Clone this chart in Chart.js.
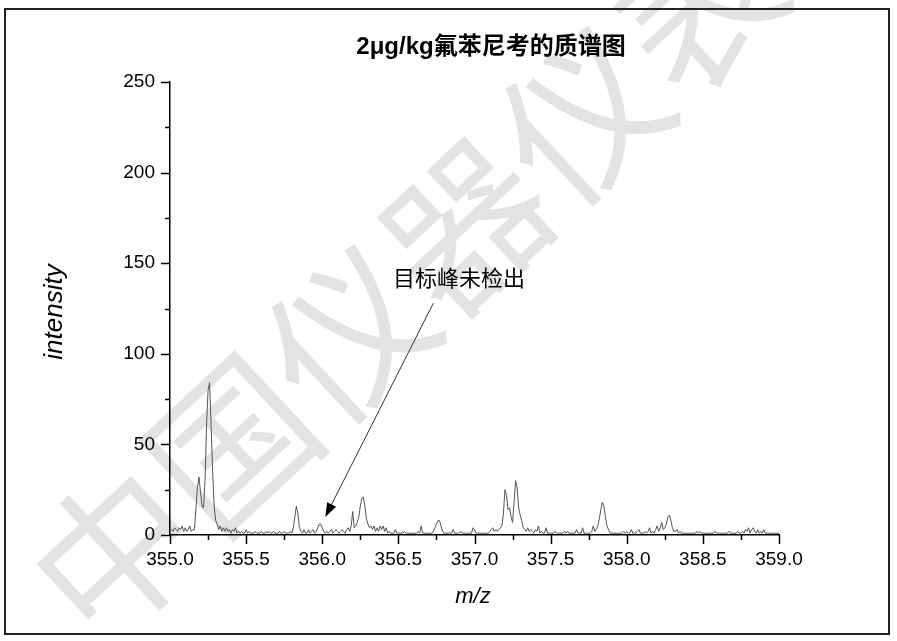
<!DOCTYPE html>
<html>
<head>
<meta charset="utf-8">
<script src="https://cdn.jsdelivr.net/npm/chart.js@4.4.1/dist/chart.umd.min.js"></script>
<style>
  html, body { margin: 0; padding: 0; background: #fff; }
  canvas { display: block; }
</style>
</head>
<body>
<canvas id="msChart" width="897" height="641"></canvas>
<script>
const chartTitle = "2μg/kg氟苯尼考的质谱图";
const xAxisTitle = "m/z";
const yAxisTitle = "intensity";
const noteText = "目标峰未检出";
const watermarkText = "中国仪器仪表";

// spectrum sampled every 0.01 m/z from 355.00 to 359.00
const mzStart = 355.0;
const mzStep = 0.01;
const intensity = [
  4, 3, 2, 4, 3, 2, 4, 3, 5, 2, 4, 2, 3, 5, 2, 3, 3, 14, 26, 32,
  24, 16, 15, 30, 60, 80, 84, 60, 35, 16, 8, 6, 3, 5, 2, 4, 2, 4, 2, 3,
  1, 3, 2, 4, 1, 2, 1, 2, 1, 1, 3, 1, 2, 1, 1, 1, 2, 1, 1, 1,
  2, 1, 1, 2, 1, 2, 1, 1, 2, 1, 1, 1, 2, 1, 1, 2, 1, 1, 1, 2,
  1, 4, 10, 16, 12, 4, 2, 1, 3, 1, 1, 3, 1, 2, 3, 1, 2, 4, 6, 6,
  4, 2, 1, 2, 1, 2, 3, 1, 2, 3, 2, 1, 2, 3, 2, 1, 3, 4, 2, 5,
  13, 4, 5, 7, 10, 16, 20, 21, 16, 9, 6, 4, 5, 3, 5, 2, 4, 2, 5, 3,
  5, 2, 4, 1, 2, 1, 1, 1, 3, 1, 1, 1, 1, 1, 2, 1, 1, 1, 1, 1,
  1, 1, 1, 2, 1, 5, 1, 1, 1, 1, 1, 1, 1, 2, 4, 6, 8, 8, 5, 2,
  1, 1, 1, 1, 1, 1, 3, 1, 1, 1, 1, 2, 1, 1, 1, 1, 1, 1, 1, 4,
  3, 1, 1, 1, 1, 1, 1, 1, 1, 1, 2, 3, 4, 2, 3, 2, 3, 4, 5, 12,
  25, 22, 14, 15, 10, 7, 18, 30, 26, 15, 11, 8, 4, 3, 2, 4, 2, 3, 2, 1,
  3, 2, 5, 1, 2, 1, 1, 4, 1, 1, 1, 1, 1, 2, 1, 1, 1, 1, 1, 2,
  1, 2, 1, 1, 1, 1, 1, 3, 1, 1, 1, 4, 1, 1, 1, 1, 1, 2, 5, 2,
  3, 5, 9, 14, 18, 16, 10, 5, 3, 1, 1, 1, 1, 1, 1, 1, 1, 1, 2, 1,
  2, 1, 1, 3, 1, 1, 1, 2, 3, 1, 1, 1, 2, 1, 2, 4, 1, 2, 1, 3,
  5, 2, 4, 7, 3, 4, 6, 10, 11, 8, 4, 2, 2, 3, 1, 2, 1, 1, 1, 1,
  1, 1, 1, 1, 1, 1, 2, 1, 2, 1, 1, 1, 1, 1, 1, 1, 1, 1, 2, 1,
  1, 1, 1, 1, 1, 1, 1, 2, 1, 1, 1, 1, 1, 2, 1, 1, 2, 1, 3, 2,
  4, 1, 3, 4, 2, 1, 3, 1, 2, 1, 3, 1, 1, 1, 1, 1, 1, 1, 1, 1,
  1
];

const xTickValues = [355.0, 355.5, 356.0, 356.5, 357.0, 357.5, 358.0, 358.5, 359.0];
const xMinorValues = [355.25, 355.75, 356.25, 356.75, 357.25, 357.75, 358.25, 358.75];
const yTickValues = [0, 50, 100, 150, 200, 250];
const yMinorValues = [25, 75, 125, 175, 225];

// arrow of the note, in data units: [m/z, intensity]
const arrowFrom = [356.73, 128];
const arrowTo = [356.02, 10];

const points = intensity.map((v, i) => ({ x: +(mzStart + i * mzStep).toFixed(2), y: v }));

const decorPlugin = {
  id: "decor",
  beforeDraw(chart) {
    const ctx = chart.ctx;
    ctx.save();
    ctx.fillStyle = "#fff";
    ctx.fillRect(0, 0, chart.width, chart.height);
    // watermark
    ctx.translate(407, 280);
    ctx.rotate(-43 * Math.PI / 180);
    ctx.font = "160px 'Noto Sans CJK SC'";
    ctx.fillStyle = "rgba(0,0,0,0.11)";
    ctx.textAlign = "center";
    ctx.textBaseline = "middle";
    ctx.fillText(watermarkText, 0, 0);
    ctx.restore();

    ctx.save();
    ctx.strokeStyle = "#222";
    ctx.lineWidth = 2;
    ctx.strokeRect(5, 9, 884, 625);
    ctx.restore();
  },
  afterDraw(chart) {
    const ctx = chart.ctx;
    const xs = chart.scales.x, ys = chart.scales.y;
    const area = chart.chartArea;
    ctx.save();
    ctx.strokeStyle = "#000";
    ctx.lineWidth = 1.5;
    ctx.beginPath();
    xTickValues.forEach(v => {
      const px = Math.round(xs.getPixelForValue(v)) + 0.5;
      ctx.moveTo(px, area.bottom); ctx.lineTo(px, area.bottom + 9);
    });
    xMinorValues.forEach(v => {
      const px = Math.round(xs.getPixelForValue(v)) + 0.5;
      ctx.moveTo(px, area.bottom); ctx.lineTo(px, area.bottom + 5);
    });
    yTickValues.forEach(v => {
      const py = Math.round(ys.getPixelForValue(v)) + 0.5;
      ctx.moveTo(area.left, py); ctx.lineTo(area.left - 9, py);
    });
    yMinorValues.forEach(v => {
      const py = Math.round(ys.getPixelForValue(v)) + 0.5;
      ctx.moveTo(area.left, py); ctx.lineTo(area.left - 5, py);
    });
    ctx.stroke();

    // titles
    ctx.fillStyle = "#000";
    ctx.textAlign = "center";
    ctx.textBaseline = "middle";
    ctx.font = "bold 24px 'Liberation Sans', 'Noto Sans CJK SC'";
    ctx.fillText(chartTitle, 491, 47);
    ctx.font = "italic 22px 'Liberation Sans'";
    ctx.fillText(xAxisTitle, 473, 597);
    ctx.save();
    ctx.translate(55, 312);
    ctx.rotate(-Math.PI / 2);
    ctx.font = "italic 26px 'Liberation Sans'";
    ctx.fillText(yAxisTitle, 0, 0);
    ctx.restore();

    // note and arrow
    ctx.font = "22px 'Noto Sans CJK SC'";
    ctx.fillText(noteText, 459, 278);
    const x1 = xs.getPixelForValue(arrowFrom[0]), y1 = ys.getPixelForValue(arrowFrom[1]);
    const x2 = xs.getPixelForValue(arrowTo[0]), y2 = ys.getPixelForValue(arrowTo[1]);
    const ang = Math.atan2(y2 - y1, x2 - x1);
    ctx.strokeStyle = "#333";
    ctx.lineWidth = 1;
    ctx.beginPath();
    ctx.moveTo(x1, y1);
    ctx.lineTo(x2 - 10 * Math.cos(ang), y2 - 10 * Math.sin(ang));
    ctx.stroke();
    ctx.fillStyle = "#000";
    ctx.beginPath();
    ctx.moveTo(x2, y2);
    ctx.lineTo(x2 - 14 * Math.cos(ang) + 5 * Math.sin(ang), y2 - 14 * Math.sin(ang) - 5 * Math.cos(ang));
    ctx.lineTo(x2 - 14 * Math.cos(ang) - 5 * Math.sin(ang), y2 - 14 * Math.sin(ang) + 5 * Math.cos(ang));
    ctx.closePath();
    ctx.fill();
    ctx.restore();
  }
};

const ctx = document.getElementById("msChart").getContext("2d");
const msChart = new Chart(ctx, {
  type: "line",
  data: {
    datasets: [{
      label: "intensity",
      data: points,
      borderColor: "#555",
      borderWidth: 1,
      pointRadius: 0,
      tension: 0,
      fill: false
    }]
  },
  options: {
    responsive: false,
    animation: false,
    layout: { padding: { left: 0, right: 118, top: 82, bottom: 0 } },
    plugins: { legend: { display: false }, tooltip: { enabled: false } },
    scales: {
      x: {
        type: "linear",
        min: 355,
        max: 359,
        afterBuildTicks: (s) => { s.ticks = xTickValues.map(v => ({ value: v })); },
        afterFit: (s) => { s.height = 641 - 535; },
        grid: { drawOnChartArea: false, drawTicks: false },
        border: { display: true, color: "#000", width: 1.5 },
        ticks: {
          padding: 13,
          color: "#000",
          maxRotation: 0,
          font: { family: "'Liberation Sans'", size: 19 },
          callback: (v) => Number(v).toFixed(1)
        }
      },
      y: {
        min: 0,
        max: 250,
        afterBuildTicks: (s) => { s.ticks = yTickValues.map(v => ({ value: v })); },
        afterFit: (s) => { s.width = 170; },
        grid: { drawOnChartArea: false, drawTicks: false },
        border: { display: true, color: "#000", width: 1.5 },
        ticks: {
          padding: 15,
          color: "#000",
          font: { family: "'Liberation Sans'", size: 19 }
        }
      }
    }
  },
  plugins: [decorPlugin]
});
</script>
</body>
</html>
